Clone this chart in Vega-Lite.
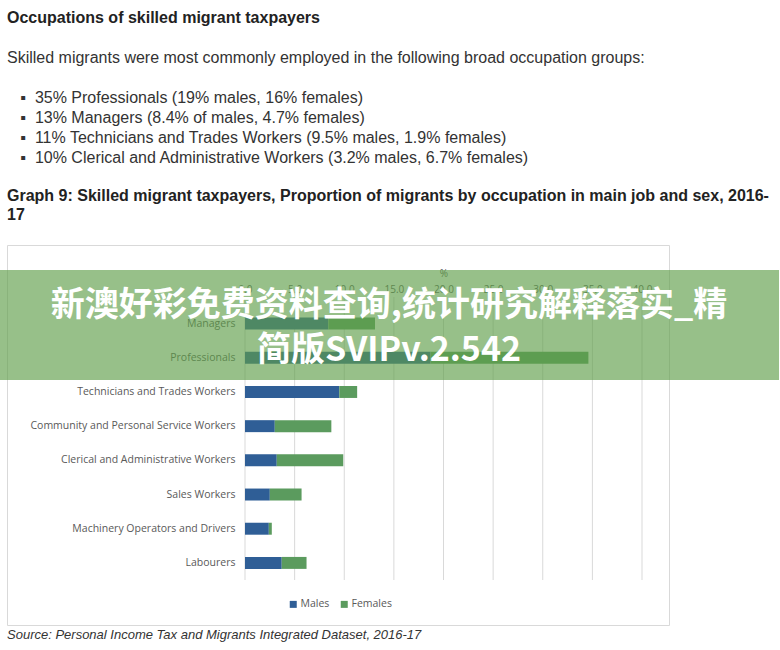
{
  "$schema": "https://vega.github.io/schema/vega-lite/v6.json",
  "background": "white",
  "padding": {"left": -2, "top": 0, "right": 0, "bottom": 0},
  "spacing": 0,
  "bounds": "flush",
  "config": {"view": {"stroke": null}, "font": "Liberation Sans"},
  "datasets": {
    "occ": [
      {"occupation": "Managers", "sex": "Males", "pct": 8.4},
      {"occupation": "Managers", "sex": "Females", "pct": 4.7},
      {"occupation": "Professionals", "sex": "Males", "pct": 18.7},
      {"occupation": "Professionals", "sex": "Females", "pct": 15.9},
      {"occupation": "Technicians and Trades Workers", "sex": "Males", "pct": 9.5},
      {"occupation": "Technicians and Trades Workers", "sex": "Females", "pct": 1.8},
      {"occupation": "Community and Personal Service Workers", "sex": "Males", "pct": 3.0},
      {"occupation": "Community and Personal Service Workers", "sex": "Females", "pct": 5.7},
      {"occupation": "Clerical and Administrative Workers", "sex": "Males", "pct": 3.2},
      {"occupation": "Clerical and Administrative Workers", "sex": "Females", "pct": 6.7},
      {"occupation": "Sales Workers", "sex": "Males", "pct": 2.5},
      {"occupation": "Sales Workers", "sex": "Females", "pct": 3.2},
      {"occupation": "Machinery Operators and Drivers", "sex": "Males", "pct": 2.4},
      {"occupation": "Machinery Operators and Drivers", "sex": "Females", "pct": 0.3},
      {"occupation": "Labourers", "sex": "Males", "pct": 3.7},
      {"occupation": "Labourers", "sex": "Females", "pct": 2.5}
    ],
    "ticks": [
      {"tick": 0}, {"tick": 5}, {"tick": 10}, {"tick": 15}, {"tick": 20},
      {"tick": 25}, {"tick": 30}, {"tick": 35}, {"tick": 40}
    ]
  },
  "vconcat": [
    {
      "width": 762,
      "height": 245,
      "data": {"values": []},
      "mark": {"type": "rule", "opacity": 0},
      "encoding": {},
      "title": {
        "text": "Occupations of skilled migrant taxpayers",
        "subtitle": [
          "Skilled migrants were most commonly employed in the following broad occupation groups:",
          "\u200b",
          "\u200b\u00a0\u00a0\u00a0▪\u00a0\u00a035% Professionals (19% males, 16% females)",
          "\u200b\u00a0\u00a0\u00a0▪\u00a0\u00a013% Managers (8.4% of males, 4.7% females)",
          "\u200b\u00a0\u00a0\u00a0▪\u00a0\u00a011% Technicians and Trades Workers (9.5% males, 1.9% females)",
          "\u200b\u00a0\u00a0\u00a0▪\u00a0\u00a010% Clerical and Administrative Workers (3.2% males, 6.7% females)"
        ],
        "orient": "top",
        "anchor": "start",
        "frame": "group",
        "offset": -166,
        "font": "Liberation Sans",
        "fontSize": 16,
        "fontWeight": "bold",
        "color": "#222222",
        "subtitleFont": "Liberation Sans",
        "subtitleFontSize": 16,
        "subtitleColor": "#333333",
        "subtitleLineHeight": 20,
        "subtitlePadding": 24
      }
    },
    {
      "width": 662,
      "height": 380,
      "view": {"stroke": "#d9d9d9", "strokeWidth": 1},
      "title": {
        "text": [
          "Graph 9: Skilled migrant taxpayers, Proportion of migrants by occupation in main job and sex, 2016-",
          "17"
        ],
        "orient": "top",
        "anchor": "start",
        "frame": "group",
        "offset": 22,
        "font": "Liberation Sans",
        "fontSize": 16,
        "fontWeight": "bold",
        "lineHeight": 19,
        "color": "#222222"
      },
      "resolve": {
        "scale": {"x": "independent", "y": "independent"},
        "axis": {"x": "independent", "y": "independent"}
      },
      "layer": [
        {
          "data": {"name": "ticks"},
          "mark": {"type": "rule", "color": "#d9d9d9", "strokeWidth": 1},
          "encoding": {
            "x": {
              "field": "tick",
              "type": "quantitative",
              "scale": {"domain": [0, 40], "range": [238, 635], "nice": false, "zero": false},
              "axis": null
            },
            "y": {
              "datum": 0,
              "type": "quantitative",
              "scale": {"domain": [0, 1], "range": [52, 335], "nice": false, "zero": false},
              "axis": null
            },
            "y2": {"datum": 1}
          }
        },
        {
          "data": {"name": "occ"},
          "mark": {"type": "bar"},
          "encoding": {
            "y": {
              "field": "occupation",
              "type": "nominal",
              "sort": [
                "Managers",
                "Professionals",
                "Technicians and Trades Workers",
                "Community and Personal Service Workers",
                "Clerical and Administrative Workers",
                "Sales Workers",
                "Machinery Operators and Drivers",
                "Labourers"
              ],
              "scale": {"range": [61.5, 335], "paddingInner": 0.65, "paddingOuter": 0.325},
              "axis": {
                "orient": "left",
                "offset": -238,
                "title": null,
                "domain": false,
                "ticks": false,
                "labelPadding": 10,
                "labelLimit": 400,
                "labelFont": "Open Sans",
                "labelFontSize": 10.5,
                "labelColor": "#595959"
              }
            },
            "x": {
              "field": "pct",
              "type": "quantitative",
              "stack": "zero",
              "scale": {"domain": [0, 40], "range": [238, 635], "nice": false},
              "axis": {
                "orient": "top",
                "offset": -52,
                "values": [0, 5, 10, 15, 20, 25, 30, 35, 40],
                "format": ".1f",
                "title": "%",
                "titleFont": "Open Sans",
                "titleFontSize": 10,
                "titleFontWeight": "normal",
                "titleColor": "#595959",
                "titlePadding": 6,
                "domain": false,
                "ticks": false,
                "grid": false,
                "labelPadding": 3,
                "labelFlush": false,
                "labelFont": "Open Sans",
                "labelFontSize": 10,
                "labelColor": "#595959"
              }
            },
            "color": {
              "field": "sex",
              "type": "nominal",
              "scale": {"domain": ["Males", "Females"], "range": ["#2f5e96", "#5b9b5e"]},
              "legend": {
                "orient": "none",
                "legendX": 281,
                "legendY": 599,
                "direction": "horizontal",
                "title": null,
                "symbolType": "square",
                "symbolSize": 49,
                "symbolStrokeWidth": 0,
                "labelFont": "Open Sans",
                "labelFontSize": 10.5,
                "labelColor": "#595959",
                "labelOffset": 2,
                "columnPadding": 9,
                "padding": 0
              }
            },
            "order": {"field": "sex", "sort": "descending"}
          }
        },
        {
          "data": {"values": [{}]},
          "layer": [
            {
              "mark": {"type": "rect", "color": "#5f9e4a", "opacity": 0.65},
              "encoding": {
                "x": {
                  "datum": 0,
                  "type": "quantitative",
                  "scale": {"domain": [0, 1], "range": [-8, 772], "nice": false, "zero": false},
                  "axis": null
                },
                "x2": {"datum": 1},
                "y": {
                  "datum": 0,
                  "type": "quantitative",
                  "scale": {"domain": [0, 1], "range": [25, 135], "nice": false, "zero": false},
                  "axis": null
                },
                "y2": {"datum": 1}
              }
            },
            {
              "mark": {
                "type": "text",
                "text": ["新澳好彩免费资料查询,统计研究解释落实_精", "简版SVIPv.2.542"],
                "font": "Noto Sans CJK SC",
                "fontSize": 34,
                "fontWeight": "bold",
                "color": "#ffffff",
                "align": "center",
                "baseline": "middle",
                "lineHeight": 45
              },
              "encoding": {
                "x": {"datum": 0.5, "type": "quantitative", "axis": null},
                "y": {"datum": 0.327, "type": "quantitative", "axis": null}
              }
            }
          ]
        }
      ]
    },
    {
      "width": 762,
      "height": 1,
      "data": {"values": []},
      "mark": {"type": "rule", "opacity": 0},
      "encoding": {},
      "title": {
        "text": "Source: Personal Income Tax and Migrants Integrated Dataset, 2016-17",
        "orient": "bottom",
        "anchor": "start",
        "frame": "group",
        "offset": 3,
        "font": "Liberation Sans",
        "fontSize": 13,
        "fontStyle": "italic",
        "fontWeight": "normal",
        "color": "#333333"
      }
    }
  ]
}
